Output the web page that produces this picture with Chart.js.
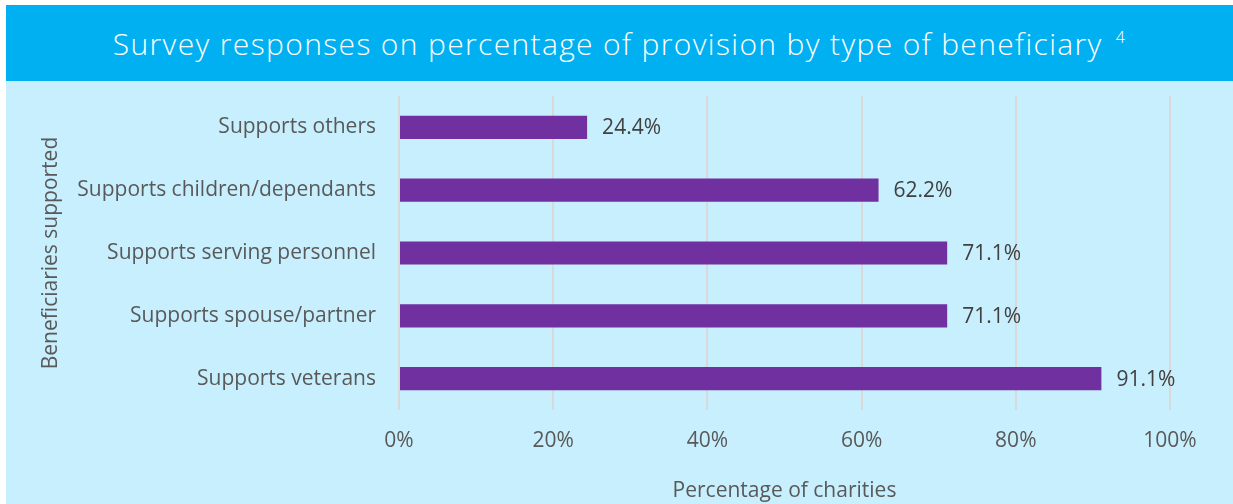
<!DOCTYPE html>
<html>
<head>
<meta charset="utf-8">
<script src="https://cdn.jsdelivr.net/npm/chart.js@4/dist/chart.umd.min.js"></script>
<style>
    body { margin: 0; background: #ffffff; width: 1233px; height: 504px; overflow: hidden; position: relative; }
    #banner {
        position: absolute; left: 6px; top: 5px; width: 1227px; height: 76px;
        background: #00b0f0; color: #ffffff;
        font-family: "Open Sans", sans-serif; font-size: 30px; font-weight: 300;
        letter-spacing: 1.35px;
        text-align: center; line-height: 78px;
    }
    #banner sup { font-size: 16px; vertical-align: 12px; line-height: 0; margin-left: 13px; }
    #panel { position: absolute; left: 6px; top: 81px; width: 1227px; height: 423px; background: #c8effd; }
    #wrap { position: absolute; left: 6px; top: 81px; width: 1227px; height: 423px; }
</style>
</head>
<body>
<div id="banner">Survey responses on percentage of provision by type of beneficiary<sup>4</sup></div>
<div id="panel"></div>
<div id="wrap"><canvas id="chart"></canvas></div>
<script>
// dữ liệu
const categories = [
    'Supports others',
    'Supports children/dependants',
    'Supports serving personnel',
    'Supports spouse/partner',
    'Supports veterans'
];
const percentValues = [24.4, 62.2, 71.1, 71.1, 91.1];
const xTicks = [0, 20, 40, 60, 80, 100];

const labelFont = { family: 'Open Sans', size: 21 };

// vẽ nhãn giá trị ở cuối mỗi cột
const valueLabels = {
    id: 'valueLabels',
    afterDatasetsDraw(chart) {
        const ctx = chart.ctx;
        const meta = chart.getDatasetMeta(0);
        ctx.save();
        ctx.font = '21px "Open Sans"';
        ctx.fillStyle = '#404040';
        ctx.textAlign = 'left';
        ctx.textBaseline = 'middle';
        meta.data.forEach((bar, i) => {
            ctx.fillText(percentValues[i].toFixed(1) + '%', bar.x + 15, bar.y + 1);
        });
        ctx.restore();
    }
};

new Chart(document.getElementById('chart'), {
    type: 'bar',
    data: {
        labels: categories,
        datasets: [{
            data: percentValues,
            backgroundColor: '#7030a0',
            borderWidth: 0,
            barPercentage: 0.37,
            categoryPercentage: 1
        }]
    },
    options: {
        indexAxis: 'y',
        responsive: true,
        maintainAspectRatio: false,
        animation: false,
        layout: { padding: { top: 15, right: 63, left: 0, bottom: 0 } },
        plugins: {
            legend: { display: false },
            tooltip: { enabled: false }
        },
        scales: {
            x: {
                min: 0,
                max: 100,
                afterBuildTicks: scale => { scale.ticks = xTicks.map(v => ({ value: v })); },
                afterFit: scale => { scale.height = 94; },
                grid: { color: '#d9d9d9', lineWidth: 2, drawTicks: false },
                border: { display: false },
                ticks: {
                    padding: 18,
                    color: '#595959',
                    font: labelFont,
                    callback: v => v + '%'
                },
                title: {
                    display: true,
                    text: 'Percentage of charities',
                    color: '#595959',
                    font: labelFont,
                    padding: { top: 0, bottom: 0 }
                }
            },
            y: {
                afterFit: scale => {
                    scale.width = 393;
                    scale.paddingTop = 0;
                    scale.paddingBottom = 0;
                },
                grid: { display: false, drawTicks: false },
                border: { display: false },
                ticks: {
                    padding: 23,
                    color: '#595959',
                    font: labelFont
                },
                title: {
                    display: true,
                    text: 'Beneficiaries supported',
                    color: '#595959',
                    font: labelFont,
                    padding: { top: 32, bottom: 0 }
                }
            }
        }
    },
    plugins: [valueLabels]
});
</script>
</body>
</html>
